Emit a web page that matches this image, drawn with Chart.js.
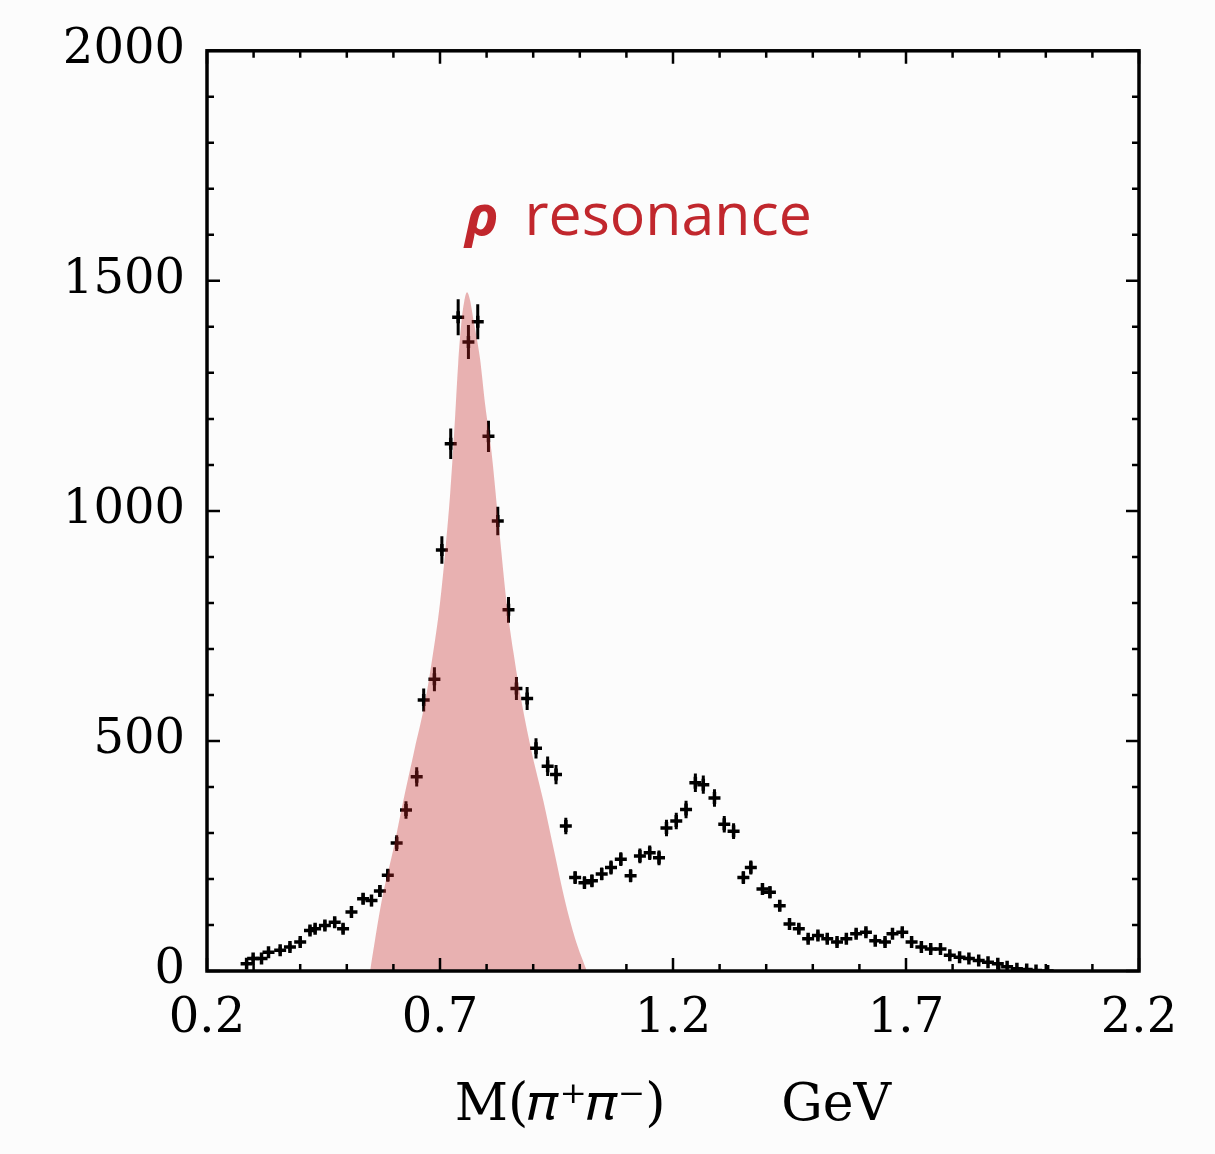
<!DOCTYPE html>
<html>
<head>
<meta charset="utf-8">
<script src="https://cdn.jsdelivr.net/npm/chart.js@4.4.1/dist/chart.umd.min.js"></script>
<style>
  html, body { margin: 0; padding: 0; background: #fcfcfc; }
  canvas { display: block; }
</style>
</head>
<body>
<canvas id="c" width="1215" height="1154"></canvas>
<script>
// ---- data ----
const massGeV = [0.285,0.299,0.317,0.332,0.357,0.378,0.400,0.421,0.432,0.453,0.474,0.492,0.510,0.535,0.553,0.571,0.588,0.607,0.627,0.650,0.665,0.688,0.704,0.723,0.739,0.761,0.781,0.804,0.824,0.847,0.864,0.887,0.906,0.931,0.949,0.970,0.990,1.010,1.026,1.047,1.067,1.088,1.109,1.129,1.150,1.170,1.186,1.207,1.228,1.248,1.265,1.289,1.310,1.330,1.351,1.367,1.392,1.408,1.429,1.450,1.470,1.490,1.511,1.531,1.552,1.572,1.593,1.614,1.634,1.655,1.671,1.692,1.712,1.733,1.753,1.774,1.794,1.815,1.835,1.856,1.876,1.897,1.917,1.938,1.959,1.979,2.004];
const events = [16,27,27,41,45,52,63,88,92,99,106,92,128,157,153,174,208,278,350,422,589,634,915,1146,1421,1367,1411,1162,978,785,614,592,484,445,427,315,203,192,196,211,225,243,207,250,257,246,311,326,351,409,405,376,319,304,203,225,178,171,142,102,92,70,77,70,63,70,81,84,66,63,81,84,63,52,48,48,34,30,27,23,19,16,9,5,3,1,0];
const errors = [5,6,6,7,7,8,8,9,9,10,10,10,11,12,12,13,14,17,19,21,25,26,30,33,39,37,38,34,31,28,25,25,22,21,21,18,14,14,14,14,15,15,14,16,16,16,18,18,19,20,20,19,18,17,14,15,13,13,12,10,10,8,9,8,8,8,9,9,8,8,9,9,8,7,7,7,6,5,5,5,4,4,3,2,2,1,0];

// rho resonance shaded curve (boundary points)
const rhoMass   = [0.550,0.575,0.600,0.621,0.645,0.668,0.685,0.700,0.712,0.722,0.731,0.739,0.746,0.752,0.758,0.764,0.771,0.778,0.786,0.797,0.810,0.826,0.843,0.858,0.875,0.898,0.922,0.945,0.968,0.990,1.015];
const rhoEvents = [0,153,265,369,480,585,690,800,920,1040,1180,1320,1410,1455,1475,1460,1420,1380,1330,1230,1133,970,800,690,585,470,369,260,153,70,0];

const xTickLabels = [0.2,0.7,1.2,1.7,2.2];
const yTickLabels = [0,500,1000,1500,2000];
const annotation = { text: 'resonance', symbol: 'ρ', x: 0.754, y: 1600 };

// ---- plugins ----
const errorBars = {
  id: 'errorBars',
  afterDatasetDraw(chart, args) {
    if (args.index !== 1) return;
    const {ctx, scales: {x, y}} = chart;
    ctx.save();
    ctx.strokeStyle = '#000';
    ctx.lineWidth = 3;
    ctx.beginPath();
    for (let i = 0; i < massGeV.length; i++) {
      const px = x.getPixelForValue(massGeV[i]);
      ctx.moveTo(px, y.getPixelForValue(events[i] - errors[i]));
      ctx.lineTo(px, y.getPixelForValue(events[i] + errors[i]));
    }
    ctx.stroke();
    ctx.restore();
  }
};

const frameTicks = {
  id: 'frameTicks',
  afterDraw(chart) {
    const {ctx, chartArea: a, scales: {x, y}} = chart;
    ctx.save();
    ctx.strokeStyle = '#000';
    ctx.lineWidth = 2.5;
    ctx.beginPath();
    for (let k = 0; k <= 20; k++) {
      const v = 0.2 + k * 0.1;
      const px = x.getPixelForValue(v);
      const len = (k % 5 === 0) ? 13 : 7;
      ctx.moveTo(px, a.bottom); ctx.lineTo(px, a.bottom - len);
      ctx.moveTo(px, a.top); ctx.lineTo(px, a.top + len);
    }
    for (let k = 0; k <= 20; k++) {
      const v = k * 100;
      const py = y.getPixelForValue(v);
      const len = (k % 5 === 0) ? 13 : 7;
      ctx.moveTo(a.left, py); ctx.lineTo(a.left + len, py);
      ctx.moveTo(a.right, py); ctx.lineTo(a.right - len, py);
    }
    ctx.stroke();
    ctx.lineWidth = 3.5;
    ctx.strokeRect(a.left, a.top, a.right - a.left, a.bottom - a.top);

    // annotation
    const tx = x.getPixelForValue(annotation.x);
    const ty = y.getPixelForValue(annotation.y);
    ctx.fillStyle = '#c1272d';
    ctx.textBaseline = 'alphabetic';
    ctx.textAlign = 'left';
    ctx.font = 'italic bold 56px "Open Sans"';
    ctx.fillText(annotation.symbol, tx, ty);
    const w = ctx.measureText(annotation.symbol).width;
    ctx.font = '59px "Open Sans"';
    ctx.fillText(annotation.text, tx + w + 26, ty);
    ctx.restore();
  }
};

new Chart(document.getElementById('c'), {
  type: 'scatter',
  data: {
    datasets: [
      {
        type: 'line',
        label: 'rho',
        data: rhoMass.map((m, i) => ({x: m, y: rhoEvents[i]})),
        fill: 'origin',
        backgroundColor: 'rgba(196,38,38,0.35)',
        borderWidth: 0,
        borderColor: 'rgba(0,0,0,0)',
        pointRadius: 0,
        cubicInterpolationMode: 'monotone',
        order: 0
      },
      {
        label: 'data',
        data: massGeV.map((m, i) => ({x: m, y: events[i]})),
        pointStyle: 'cross',
        pointRadius: 6,
        borderWidth: 3.5,
        borderColor: '#000',
        backgroundColor: '#000',
        order: 1
      }
    ]
  },
  options: {
    responsive: false,
    animation: false,
    layout: { padding: { top: 46, right: 76, left: 0, bottom: 0 } },
    plugins: { legend: { display: false }, tooltip: { enabled: false } },
    scales: {
      x: {
        type: 'linear',
        min: 0.2, max: 2.2,
        grid: { display: false, drawTicks: false },
        border: { display: false },
        afterBuildTicks: s => { s.ticks = xTickLabels.map(v => ({value: v})); },
        afterFit: s => { s.height = 183; },
        ticks: {
          color: '#000',
          padding: 20,
          font: { family: '"DejaVu Serif"', size: 48 },
          callback: v => Number(v).toFixed(1)
        },
        title: {
          display: true,
          text: 'M(𝜋⁺𝜋⁻)       GeV',
          color: '#000',
          font: { family: '"DejaVu Serif"', size: 52 },
          padding: { top: 0, bottom: 16 }
        }
      },
      y: {
        min: 0, max: 2000,
        grid: { display: false, drawTicks: false },
        border: { display: false },
        afterBuildTicks: s => { s.ticks = yTickLabels.map(v => ({value: v})); },
        afterFit: s => { s.width = 207; },
        ticks: {
          color: '#000',
          padding: 22,
          font: { family: '"DejaVu Serif"', size: 48 },
          callback: v => String(v)
        }
      }
    }
  },
  plugins: [errorBars, frameTicks]
});
</script>
</body>
</html>
